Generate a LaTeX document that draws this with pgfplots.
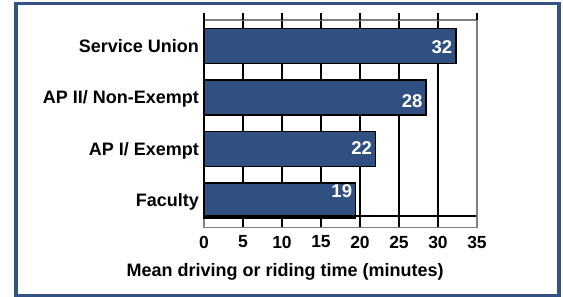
\documentclass[border=0pt]{standalone}
\usepackage{pgfplots}
\pgfplotsset{compat=1.18}
\usepackage{fontspec}
\setmainfont{Liberation Sans}
\definecolor{barblue}{RGB}{49,80,130}
\definecolor{frameblue}{RGB}{52,82,130}
\pgfplotstableread{
y v lab dy
0 19.45 19 9
1 22.0 22 1
2 28.46 28 -3.5
3 32.3 32 -1
}\datatab
\begin{document}
\begin{tikzpicture}[x=1pt,y=1pt]
\useasboundingbox (0,0) rectangle (563,297);
\draw[frameblue, line width=3.5pt] (16,1.5) rectangle (559,293.5);
\begin{axis}[
  at={(204pt,69.3pt)}, anchor=south west,
  scale only axis, width=273pt, height=207.7pt,
  xmin=0, xmax=35, ymin=-0.527, ymax=3.5,
  xtick={0,5,...,35}, ytick={0,1,2,3},
  yticklabels={Faculty, AP I/ Exempt, AP II/ Non-Exempt, Service Union},
  major tick length=0pt,
  axis line style={draw=gray, line width=1.2pt},
  xmajorgrids, major grid style={black, line width=1.3pt},
  /pgf/number format/assume math mode=true,
  xticklabel style={font=\bfseries\fontsize{17.5}{20}\selectfont, anchor=north, inner sep=0pt, yshift=-8pt},
  yticklabel style={font=\bfseries\fontsize{18}{20}\selectfont, anchor=base east, inner sep=0pt, xshift=-5pt, yshift=-6.4pt},
  xlabel={Mean driving or riding time (minutes)},
  xlabel style={at={(axis description cs:0.297,0)}, anchor=base, yshift=-49.3pt, inner sep=0pt, font=\bfseries\fontsize{18}{20}\selectfont},
  xbar, bar width=35pt,
  clip=false,
]
\addplot[fill=barblue, draw=black, line width=1.3pt,
  point meta=explicit symbolic,
  visualization depends on={\thisrow{dy} \as \dy},
  nodes near coords,
  every node near coord/.append style={anchor=east, inner sep=0pt, xshift=-3pt, yshift=\dy, text=white, font=\bfseries\fontsize{18.5}{20}\selectfont},
] table[x=v, y=y, meta=lab] {\datatab};
\draw[black, line width=1.3pt] (axis cs:0,-0.30) -- (axis cs:35,-0.30);
\draw[black, line width=1.3pt] (axis cs:0,-0.32) -- (axis cs:0,3.64);
\draw[black, line width=1.3pt] (axis cs:5,3.5) -- (axis cs:5,3.64);
\draw[black, line width=1.3pt] (axis cs:10,3.5) -- (axis cs:10,3.64);
\draw[black, line width=1.3pt] (axis cs:15,3.5) -- (axis cs:15,3.64);
\draw[black, line width=1.3pt] (axis cs:20,3.5) -- (axis cs:20,3.64);
\draw[black, line width=1.3pt] (axis cs:25,3.5) -- (axis cs:25,3.64);
\draw[black, line width=1.3pt] (axis cs:30,3.5) -- (axis cs:30,3.64);
\draw[black, line width=1.3pt] (axis cs:35,3.5) -- (axis cs:35,3.64);
\draw[gray, line width=1.2pt] (axis cs:35,-0.527) -- (axis cs:35,3.5);
\end{axis}
\end{tikzpicture}
\end{document}
